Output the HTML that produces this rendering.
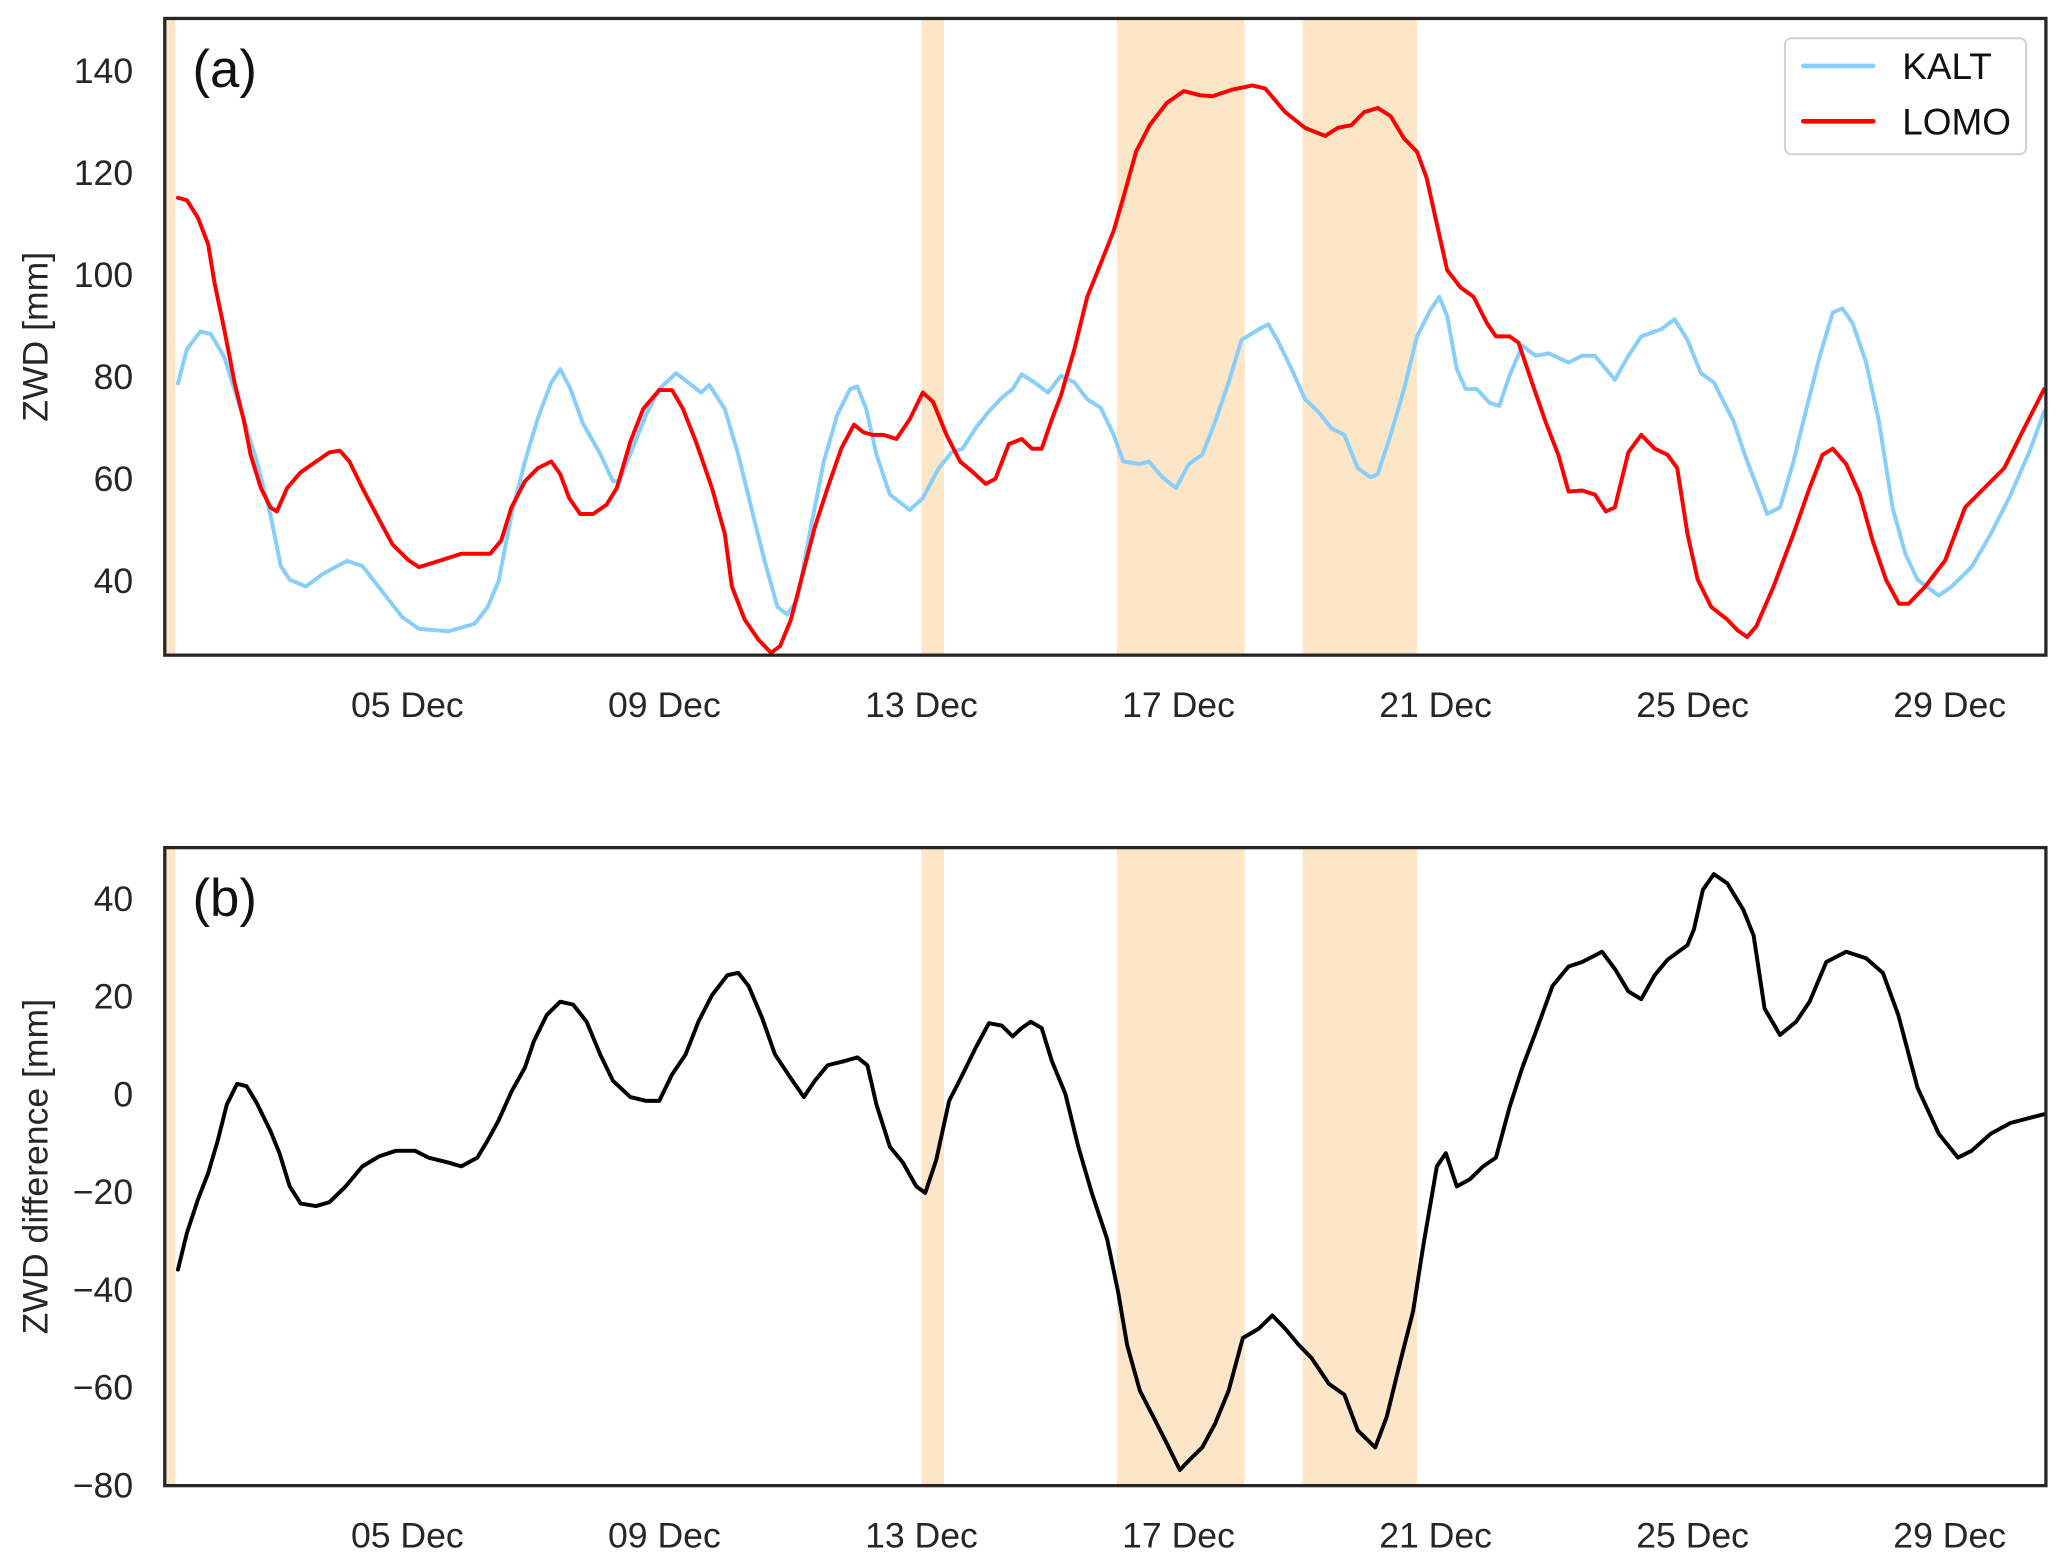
<!DOCTYPE html>
<html><head><meta charset="utf-8"><style>
html,body{margin:0;padding:0;background:#fff;}
svg{display:block;font-family:"Liberation Sans",sans-serif;}
</style></head><body>
<svg id="chart" width="2067" height="1565" viewBox="0 0 1568 1187.2" preserveAspectRatio="none" xmlns="http://www.w3.org/2000/svg"></svg>
<script>
// ---- data ----
const shadeSpans = [[1.23,1.39],[13.0,13.35],[16.04,18.03],[18.93,20.71]];
const xTickDays = [5,9,13,17,21,25,29];
const xTickLabels = ["05 Dec","09 Dec","13 Dec","17 Dec","21 Dec","25 Dec","29 Dec"];
const yTicksA = [40,60,80,100,120,140];
const yTicksB = [-80,-60,-40,-20,0,20,40];
const kaltDays = [1.43,1.57,1.78,1.94,2.15,2.35,2.66,2.87,3.03,3.17,3.42,3.69,4.06,4.30,4.61,4.92,5.18,5.64,6.05,6.25,6.42,6.62,6.83,7.03,7.24,7.38,7.54,7.73,8.00,8.2,8.3,8.47,8.71,8.92,9.18,9.37,9.57,9.70,9.94,10.15,10.35,10.56,10.76,10.91,11.07,11.28,11.48,11.69,11.89,12,12.14,12.30,12.51,12.82,13.02,13.27,13.47,13.64,13.84,14.05,14.25,14.42,14.56,14.76,14.97,15.17,15.38,15.58,15.79,15.99,16.14,16.40,16.54,16.75,16.96,17.16,17.37,17.57,17.78,17.98,18.25,18.4,18.56,18.76,18.97,19.17,19.38,19.58,19.79,19.99,20.1,20.3,20.51,20.71,20.92,21.06,21.18,21.33,21.47,21.64,21.84,21.99,22.15,22.35,22.56,22.76,23.07,23.28,23.48,23.79,24,24.2,24.51,24.72,24.92,25.13,25.33,25.64,25.85,26.05,26.16,26.36,26.57,26.77,26.98,27.18,27.33,27.49,27.7,27.9,28.11,28.31,28.5,28.83,29.03,29.34,29.64,29.95,30.26,30.47];
const kaltValues = [78.8,85.5,89,88.5,84,76,63.5,53,43,40.3,39,41.5,44,43,38,33,30.7,30.2,31.7,35,40,53,63.5,72,79,81.6,77.7,71,65,59.6,59.6,65,72.5,77.7,80.8,79,77,78.5,73.8,64.8,54.5,44,35,33.5,36.4,50.6,63.5,72.6,77.7,78.2,73.8,64.8,57,54,56.3,62.2,65.3,66,70,73.3,76,77.7,80.6,79,77,80.3,79,75.7,74,68.7,63.5,63,63.5,60.4,58.3,63,64.8,71.3,79,87.3,89.4,90.4,86.8,81.6,75.7,73.3,70,68.7,62.2,60.4,61,68.7,77.7,88,93.2,95.8,92,81.6,77.7,77.7,75,74.4,80.3,86.2,84.2,84.7,82.9,84.2,84.2,79.5,84.2,88,89.4,91.4,87.3,80.8,79,71.3,63.5,57,53.2,54.5,63.5,73.8,84.2,92.7,93.5,90.6,82.9,71.3,54.5,45.4,40.3,37.2,39,42.8,49.3,57,66,73.3];
const lomoDays = [1.43,1.57,1.74,1.90,2.0,2.15,2.31,2.46,2.56,2.72,2.87,2.97,3.13,3.34,3.58,3.79,3.95,4.1,4.3,4.57,4.77,5.02,5.18,5.39,5.64,5.84,6.05,6.29,6.46,6.62,6.83,7.03,7.24,7.38,7.52,7.69,7.89,8.1,8.26,8.47,8.67,8.92,9.12,9.29,9.49,9.74,9.94,10.05,10.25,10.46,10.66,10.8,10.97,11.13,11.34,11.54,11.75,11.95,12.1,12.24,12.41,12.61,12.82,13.02,13.18,13.39,13.6,13.8,14.0,14.15,14.36,14.56,14.72,14.87,15.03,15.17,15.38,15.58,15.79,15.99,16.14,16.34,16.55,16.82,17.08,17.33,17.53,17.84,18.15,18.35,18.66,18.97,19.28,19.48,19.69,19.89,20.1,20.3,20.51,20.71,20.86,21.02,21.18,21.39,21.59,21.8,21.94,22.15,22.29,22.5,22.71,22.91,23.07,23.28,23.48,23.65,23.79,24,24.2,24.41,24.61,24.76,24.92,25.08,25.29,25.54,25.7,25.85,25.99,26.26,26.57,26.82,27.02,27.18,27.39,27.6,27.8,28.01,28.21,28.36,28.62,28.93,29.24,29.54,29.85,30.16,30.47];
const lomoValues = [115.2,114.7,111.3,106.1,98.4,89.4,79,71.3,64.8,58.3,54.5,53.7,58.3,61.4,63.5,65.3,65.6,63.5,58.3,51.9,47.2,44.1,42.8,43.6,44.6,45.4,45.4,45.4,48,54.5,59.6,62.2,63.5,61,56.3,53.2,53.2,55,58.3,67.4,73.8,77.5,77.5,73.8,67.4,58.3,49.3,39,32.5,28.6,26,27.3,32.5,40.3,50.6,58.3,66,70.7,69.2,68.7,68.7,67.9,71.8,77,75.2,68.7,63.5,61.4,59.1,60.1,66.9,67.9,66,66,71.8,76.4,85.5,95.8,102.3,108.7,115.2,124.2,129.4,133.8,136.1,135.3,135.1,136.4,137.2,136.6,132,128.9,127.3,128.9,129.4,132,132.8,131.2,126.8,124.2,119.1,110,101,97.6,95.8,90.6,88,88,86.8,79,71.3,64.8,57.6,57.8,57,53.7,54.5,65.3,68.7,66,64.8,62.2,49.3,40.3,35,32.5,30.4,29.1,31.2,39,49.3,58.3,64.8,66,63,57,48,40.3,35.6,35.6,39,44.1,54.5,58.3,62.2,70,77.7];
const diffDays = [1.43,1.57,1.74,1.90,2.05,2.19,2.35,2.5,2.66,2.87,3.01,3.17,3.34,3.58,3.79,4.04,4.3,4.57,4.82,5.12,5.33,5.64,5.84,6.09,6.25,6.42,6.62,6.83,6.97,7.17,7.38,7.58,7.79,8.0,8.2,8.47,8.71,8.92,9.12,9.33,9.53,9.74,9.98,10.15,10.31,10.52,10.72,10.97,11.17,11.34,11.54,11.79,12,12.16,12.3,12.51,12.71,12.92,13.06,13.23,13.43,13.64,13.84,14.05,14.25,14.42,14.56,14.7,14.87,15.03,15.24,15.44,15.65,15.89,16.06,16.2,16.4,16.61,16.82,17.02,17.16,17.37,17.57,17.78,18,18.25,18.46,18.66,18.87,19.07,19.34,19.58,19.79,20.06,20.24,20.44,20.65,20.81,21.02,21.16,21.33,21.53,21.74,21.94,22.15,22.35,22.56,22.82,23.07,23.28,23.59,23.79,24,24.2,24.41,24.61,24.92,25.02,25.16,25.33,25.54,25.79,25.95,26.12,26.36,26.61,26.82,27.08,27.39,27.7,27.96,28.2,28.5,28.83,29.13,29.34,29.64,29.95,30.47];
const diffValues = [-35.8,-28.3,-21.5,-16.1,-9.4,-2.1,2.2,1.7,-1.8,-7.5,-12,-18.8,-22.3,-22.8,-22,-18.8,-14.7,-12.6,-11.5,-11.5,-12.9,-13.9,-14.7,-12.9,-9.4,-5.3,0.6,5.5,10.9,16.3,19,18.4,14.9,8.2,2.8,-0.5,-1.3,-1.3,4.1,8.2,14.9,20.3,24.4,24.9,22.2,15.7,8.2,3.3,-0.5,2.8,6,6.8,7.6,6,-2.1,-10.7,-13.9,-18.8,-20.1,-13.4,-1.3,4.1,9.5,14.6,14.1,11.9,13.6,14.9,13.6,6.8,0.1,-10.7,-20.1,-29.6,-40.4,-51.2,-60.6,-66,-71.4,-76.8,-74.9,-72.2,-67.3,-60.6,-49.8,-47.9,-45.2,-47.9,-51.2,-53.9,-59.2,-61.4,-68.7,-72.2,-66,-55.2,-44.4,-30.9,-14.7,-12,-18.8,-17.4,-14.7,-12.9,-2.6,5.5,12.8,22.2,26.2,27.1,29.2,25.7,21.1,19.5,24.4,27.6,30.6,33.8,41.9,45.1,43.2,37.8,32.5,17.6,12.2,14.9,19,27.1,29.2,27.9,24.9,16.3,1.4,-8,-12.9,-11.5,-8,-5.8,-4];

// ---- layout ----
const NS="http://www.w3.org/2000/svg";
const svg=document.getElementById('chart');
const L=125,R=1552;
const xScale=d=>309+(d-5)*48.75;
const panelA={top:14,bot:497,y:v=>441-(v-40)*3.87,name:'panel-a'};
const panelB={top:643,bot:1127,y:v=>682-(v-40)*3.708,name:'panel-b'};
function mk(tag,attrs,parent){const e=document.createElementNS(NS,tag);for(const k in attrs)e.setAttribute(k,attrs[k]);(parent||svg).appendChild(e);return e;}

function drawPanel(p,yTicks,ylabel,letter){
  const g=mk('g',{});
  
  
  shadeSpans.forEach(s=>{
    const r=mk('rect',{x:xScale(s[0]),y:p.top,width:xScale(s[1])-xScale(s[0]),height:p.bot-p.top,fill:'#fde5c8'},g);
    
    
  });
  yTicks.forEach(v=>{
    const t=mk('text',{x:L-24,y:p.y(v)+9,'text-anchor':'end','font-size':'27',fill:'#262626'},g);
    t.textContent=v<0?'\u2212'+Math.abs(v):String(v);
    
    
  });
  xTickDays.forEach((d,i)=>{
    const t=mk('text',{x:xScale(d),y:p.bot+47,'text-anchor':'middle','font-size':'27',fill:'#262626'},g);
    t.textContent=xTickLabels[i];
    
    
  });
  const cy=(p.top+p.bot)/2;
  const yl=mk('text',{x:36,y:cy,'text-anchor':'middle','font-size':'27',fill:'#262626',transform:`rotate(-90 36 ${cy})`},g);
  yl.textContent=ylabel;
  
  
  const lt=mk('text',{x:146,y:p.top+52,'font-size':'40',fill:'#111'},g);
  lt.textContent=letter;
  
  
  return g;
}
function drawLine(p,days,vals,color,name,w){
  const pts=days.map((d,i)=>xScale(d).toFixed(1)+','+p.y(vals[i]).toFixed(1)).join(' ');
  const l=mk('polyline',{points:pts,fill:'none',stroke:color,'stroke-width':w,'stroke-linejoin':'round','stroke-linecap':'round'});
  
  
}
function frame(p){
  const f=mk('rect',{x:L,y:p.top,width:R-L,height:p.bot-p.top,fill:'none',stroke:'#262626','stroke-width':2.5});
  
  
}

drawPanel(panelA,yTicksA,'ZWD [mm]','(a)');
drawLine(panelA,kaltDays,kaltValues,'#87cefa','kalt-line',3);
drawLine(panelA,lomoDays,lomoValues,'#ff0000','lomo-line',3);
frame(panelA);

drawPanel(panelB,yTicksB,'ZWD difference [mm]','(b)');
drawLine(panelB,diffDays,diffValues,'#000000','difference-line',3);
frame(panelB);

// legend
const lg=mk('g',{});


mk('rect',{x:1354,y:29,width:183,height:88,rx:5,fill:'#fff',stroke:'#d0d0d0','stroke-width':1.5},lg);
const entries=[['KALT','#87cefa',50],['LOMO','#ff0000',92]];
entries.forEach(e=>{
  const ln=mk('line',{x1:1368,x2:1421,y1:e[2],y2:e[2],stroke:e[1],'stroke-width':3.5,'stroke-linecap':'round'},lg);
  
  
  const t=mk('text',{x:1443,y:e[2]+10,'font-size':'28',fill:'#111'},lg);
  t.textContent=e[0];
  
  
});
</script>
</body></html>
